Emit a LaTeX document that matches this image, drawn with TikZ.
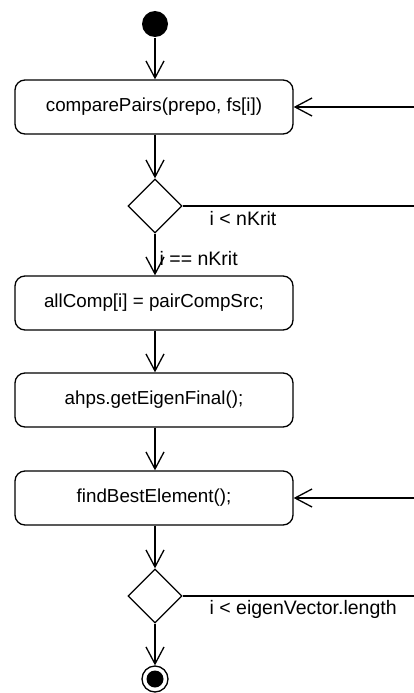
\documentclass[tikz,border=0pt]{standalone}
\usepackage{fontspec}
\setmainfont{Liberation Sans}
\usetikzlibrary{shapes.geometric,arrows.meta}
\tikzstyle{action}=[rectangle, rounded corners=10pt, draw, minimum width=278pt, minimum height=54pt, inner sep=0pt]
\tikzstyle{choice}=[diamond, draw, minimum width=54pt, minimum height=54pt, inner sep=0pt]
\tikzstyle{startdot}=[circle, fill=black, minimum size=26pt, inner sep=0pt]
\tikzstyle{enddot}=[circle, draw, minimum size=26pt, inner sep=0pt,
    path picture={\fill (path picture bounding box.center) circle (8.5pt);}]
\tikzstyle{guard}=[anchor=west, inner sep=0pt, font=\fontsize{19.5}{22}\selectfont]
\tikzstyle{flow}=[-{Straight Barb[length=17pt,width=18pt]}]

\begin{document}
\begin{tikzpicture}[x=1pt, y=-1pt, line width=1.3pt, font=\fontsize{18.8}{22}\selectfont]
    \useasboundingbox (0,0) rectangle (414,693);
    \node[startdot] (start) at (155, 24) {};
    \node[action] (cmp) at (154, 107) {comparePairs(prepo, fs[i])};
    \node[choice] (dec1) at (155, 206) {};
    \node[action] (assign) at (154, 303) {allComp[i] = pairCompSrc;};
    \node[action] (eigen) at (154, 400) {ahps.getEigenFinal();};
    \node[action] (best) at (154, 498) {findBestElement();};
    \node[choice] (dec2) at (155, 596) {};
    \node[enddot] (end) at (155, 679) {};
    \coordinate (r1) at (414, 107);
    \coordinate (r2) at (414, 206);
    \coordinate (r3) at (414, 498);
    \coordinate (r4) at (414, 596);
    \draw[flow] (start) -- (start |- cmp.north);
    \draw[flow] (cmp.south -| dec1) -- (dec1.north);
    \draw[flow] (dec1.south) -- (dec1 |- assign.north);
    \draw[flow] (assign.south -| dec1) -- (dec1 |- eigen.north);
    \draw[flow] (eigen.south -| dec1) -- (dec1 |- best.north);
    \draw[flow] (best.south -| dec2) -- (dec2.north);
    \draw[flow] (dec2.south) -- (end.north);
    % loops back from the right
    \draw (dec1.east) -- (r2);
    \draw[flow] (r1) -- (cmp.east);
    \draw (dec2.east) -- (r4);
    \draw[flow] (r3) -- (best.east);
    % guards
    \node[guard] (g1) at (209, 219) {i < nKrit};
    \node[guard] (g2) at (159, 259) {i == nKrit};
    \node[guard] (g3) at (209, 609) {i < eigenVector.length};
\end{tikzpicture}
\end{document}
